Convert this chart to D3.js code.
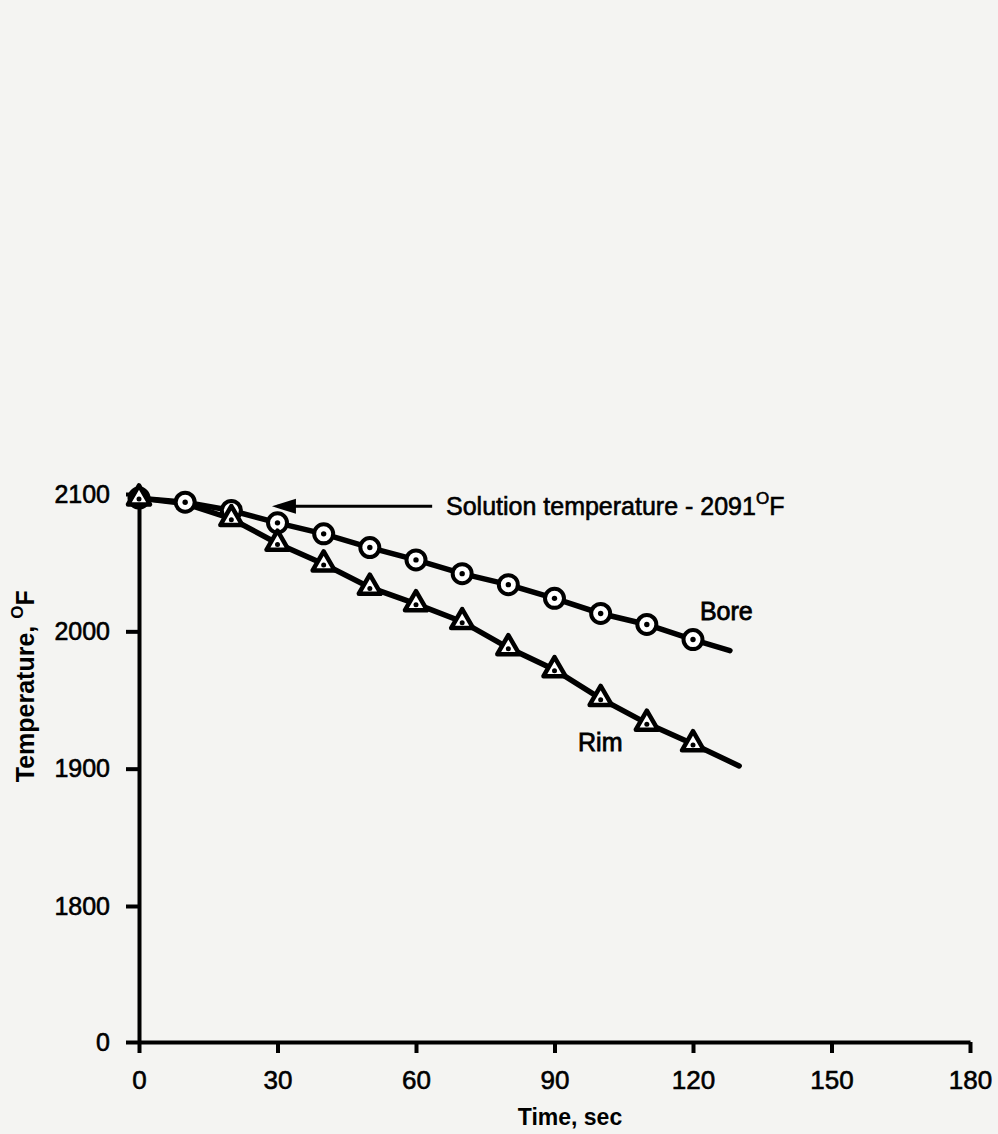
<!DOCTYPE html>
<html>
<head>
<meta charset="utf-8">
<script src="https://cdn.jsdelivr.net/npm/d3@7"></script>
<style>
  html, body { margin: 0; padding: 0; background: #f4f4f2; }
  svg { display: block; font-family: "Liberation Sans", Arial, Helvetica, sans-serif; }
</style>
</head>
<body>
<div id="chart"></div>
<script>
// time in seconds, temperatures in deg F
const times = [0, 10, 20, 30, 40, 50, 60, 70, 80, 90, 100, 110, 120];
const boreTemps = [2097, 2094, 2088, 2079, 2071, 2061, 2052, 2042, 2034, 2024, 2013, 2005, 1994];
const rimTemps = [2097, 2093, 2082, 2064, 2049, 2032, 2020, 2007, 1988, 1972, 1951, 1933, 1918];
// the drawn lines run a little past the last marker
const boreLineEnd = [128, 1986];
const rimLineEnd = [130, 1902];

const xTicks = [0, 30, 60, 90, 120, 150, 180];
const yTicks = [0, 1800, 1900, 2000, 2100];
const solutionTemp = 2091;

const width = 998;
const height = 1134;

const svg = d3.select("#chart")
    .append("svg")
    .attr("width", width)
    .attr("height", height);

const x = d3.scaleLinear()
    .domain([0, 180])
    .range([139, 970]);

// broken axis: 0 at the bottom, then 1800..2100
const y = d3.scaleLinear()
    .domain([0, 1800, 2100])
    .range([1042, 906, 494]);

// x axis
const xAxis = svg.append("g")
    .attr("transform", `translate(0, ${y(0)})`)
    .call(d3.axisBottom(x).tickValues(xTicks).tickSize(11).tickSizeOuter(0).tickPadding(18));

// y axis
const yAxis = svg.append("g")
    .attr("transform", `translate(${x(0)}, 0)`)
    .call(d3.axisLeft(y).tickValues(yTicks).tickFormat(d3.format("d"))
        .tickSize(13).tickSizeOuter(0).tickPadding(16));

[xAxis, yAxis].forEach(g => {
    g.select(".domain").attr("stroke", "#000").attr("stroke-width", 4);
    g.selectAll(".tick line").attr("stroke", "#000").attr("stroke-width", 4);
    g.selectAll(".tick text")
        .attr("fill", "#000")
        .attr("stroke", "#000")
        .attr("stroke-width", 0.6);
});
xAxis.selectAll(".tick text").attr("font-size", 26);
yAxis.selectAll(".tick text").attr("font-size", 25);

// axis titles
svg.append("text")
    .attr("x", 570)
    .attr("y", 1125)
    .attr("text-anchor", "middle")
    .attr("font-size", 23)
    .attr("font-weight", "bold")
    .text("Time, sec");

const yTitle = svg.append("text")
    .attr("transform", `translate(34, ${y(1960)}) rotate(-90)`)
    .attr("text-anchor", "middle")
    .attr("font-size", 25)
    .attr("font-weight", "bold");
yTitle.append("tspan").text("Temperature, ");
yTitle.append("tspan").attr("font-size", 17).attr("dy", -11).text("O");
yTitle.append("tspan").attr("dy", 11).text("F");

// series lines
const line = d3.line()
    .x(d => x(d[0]))
    .y(d => y(d[1]));

const borePts = times.map((t, i) => [t, boreTemps[i]]);
const rimPts = times.map((t, i) => [t, rimTemps[i]]);

svg.append("path")
    .datum(rimPts.concat([rimLineEnd]))
    .attr("d", line)
    .attr("fill", "none")
    .attr("stroke", "#000")
    .attr("stroke-width", 5.5)
    .attr("stroke-linecap", "round");

svg.append("path")
    .datum(borePts.concat([boreLineEnd]))
    .attr("d", line)
    .attr("fill", "none")
    .attr("stroke", "#000")
    .attr("stroke-width", 5.5)
    .attr("stroke-linecap", "round");

// bore markers: circles with a dot
const boreG = svg.append("g").selectAll("g")
    .data(borePts)
    .enter()
    .append("g")
    .attr("transform", d => `translate(${x(d[0])}, ${y(d[1])})`);
boreG.append("circle")
    .attr("r", 9.5)
    .attr("fill", "#fff")
    .attr("stroke", "#000")
    .attr("stroke-width", 4);
boreG.append("circle").attr("r", 2.7).attr("fill", "#000");

// rim markers: triangles with a dot
const tri = d3.symbol().type(d3.symbolTriangle).size(210);
const rimG = svg.append("g").selectAll("g")
    .data(rimPts.filter(d => d[0] !== 10))
    .enter()
    .append("g")
    .attr("transform", d => `translate(${x(d[0])}, ${y(d[1])})`);
rimG.append("path")
    .attr("d", tri)
    .attr("fill", "#fff")
    .attr("stroke", "#000")
    .attr("stroke-width", 4.5)
    .attr("stroke-linejoin", "round");
rimG.append("circle").attr("r", 2.5).attr("cy", 1).attr("fill", "#000");

// series labels
svg.append("text")
    .attr("x", x(121.5))
    .attr("y", y(2008))
    .attr("font-size", 25)
    .attr("stroke", "#000")
    .attr("stroke-width", 0.8)
    .text("Bore");

svg.append("text")
    .attr("x", x(95.1))
    .attr("y", y(1913))
    .attr("font-size", 25)
    .attr("stroke", "#000")
    .attr("stroke-width", 0.8)
    .text("Rim");

// solution temperature annotation
const ay = y(solutionTemp);
svg.append("line")
    .attr("x1", x(30)).attr("x2", x(63.5))
    .attr("y1", ay).attr("y2", ay)
    .attr("stroke", "#000")
    .attr("stroke-width", 3);
svg.append("path")
    .attr("d", `M${x(28.8)},${ay} l24,-7.5 l0,15 z`)
    .attr("fill", "#000");

const note = svg.append("text")
    .attr("x", x(66.5))
    .attr("y", ay + 9)
    .attr("font-size", 25)
    .attr("stroke", "#000")
    .attr("stroke-width", 0.6);
note.append("tspan").text("Solution temperature  -  2091");
note.append("tspan").attr("font-size", 17).attr("dy", -11).text("O");
note.append("tspan").attr("dy", 11).text("F");
</script>
</body>
</html>
